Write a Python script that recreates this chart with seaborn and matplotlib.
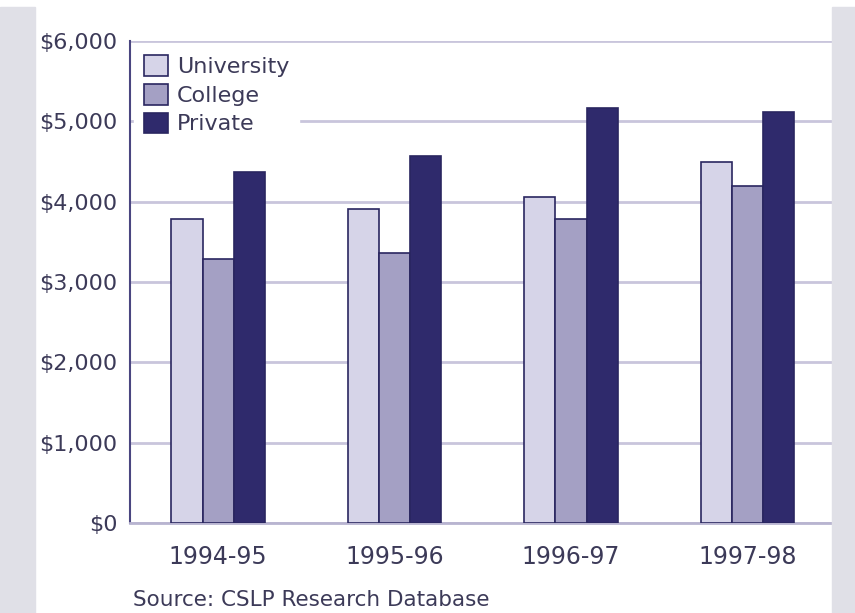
import pandas as pd
import matplotlib.pyplot as plt
import seaborn as sns
from matplotlib.patches import Rectangle
from matplotlib.ticker import FuncFormatter

# ── Data ──
years = ["1994-95", "1995-96", "1996-97", "1997-98"]
university = [3780, 3910, 4060, 4500]
college = [3290, 3360, 3790, 4200]
private = [4370, 4570, 5160, 5120]
series = ["University", "College", "Private"]

df = pd.DataFrame({
    "year": years * 3,
    "type": [s for s in series for _ in years],
    "cost": university + college + private,
})

colors = ["#d6d4e8", "#a4a0c4", "#2f2a6c"]
edge = "#2a2660"
text_col = "#3c3a58"

sns.set_style("white")
plt.rcParams["font.family"] = ["DejaVu Sans"]

fig = plt.figure(figsize=(8.55, 6.13), dpi=100)

# textured gray side strips
fig.patches.append(Rectangle((0, 0), 35 / 855, 1 - 7 / 613, transform=fig.transFigure,
                             color="#e0e0e7", zorder=0))
fig.patches.append(Rectangle((832 / 855, 0), 23 / 855, 1 - 7 / 613, transform=fig.transFigure,
                             color="#e0e0e7", zorder=0))

ax = fig.add_axes([130 / 855, 1 - 523 / 613, 702 / 855, 482 / 613])

sns.barplot(data=df, x="year", y="cost", hue="type", hue_order=series,
            palette=colors, width=0.53, edgecolor=edge, linewidth=1.2,
            saturation=1, ax=ax, zorder=3)

ax.set_ylim(0, 6000)
ax.set_xlim(-0.5, 3.48)
ax.set_yticks(range(0, 6001, 1000))
ax.yaxis.set_major_formatter(FuncFormatter(lambda v, p: f"${int(v):,}"))
ax.grid(axis="y", color="#c9c5dc", linewidth=2, linestyle="-", zorder=0)
ax.set_axisbelow(True)

for s in ["top", "right"]:
    ax.spines[s].set_visible(False)
ax.spines["left"].set_color("#4a4680")
ax.spines["left"].set_linewidth(1.5)
ax.spines["bottom"].set_color("#b8b4d0")
ax.spines["bottom"].set_linewidth(2)

ax.set_xlabel("")
ax.set_ylabel("")
ax.tick_params(axis="both", length=0, labelsize=16, colors=text_col)
ax.tick_params(axis="x", pad=16, labelsize=17)
ax.tick_params(axis="y", pad=9)

leg = ax.legend(loc="upper left", frameon=True, fontsize=16, handlelength=1.05,
                handleheight=1.05, handletextpad=0.4, labelspacing=0.3,
                borderaxespad=0.2, borderpad=0.45)
leg.get_frame().set_facecolor("white")
leg.get_frame().set_edgecolor("white")
leg.get_frame().set_alpha(1)
for t in leg.get_texts():
    t.set_color(text_col)

fig.text(133 / 855, 1 - 600 / 613, "Source: CSLP Research Database",
         fontsize=15.5, color=text_col, va="center", ha="left")

fig.savefig("out.png", dpi=100)
